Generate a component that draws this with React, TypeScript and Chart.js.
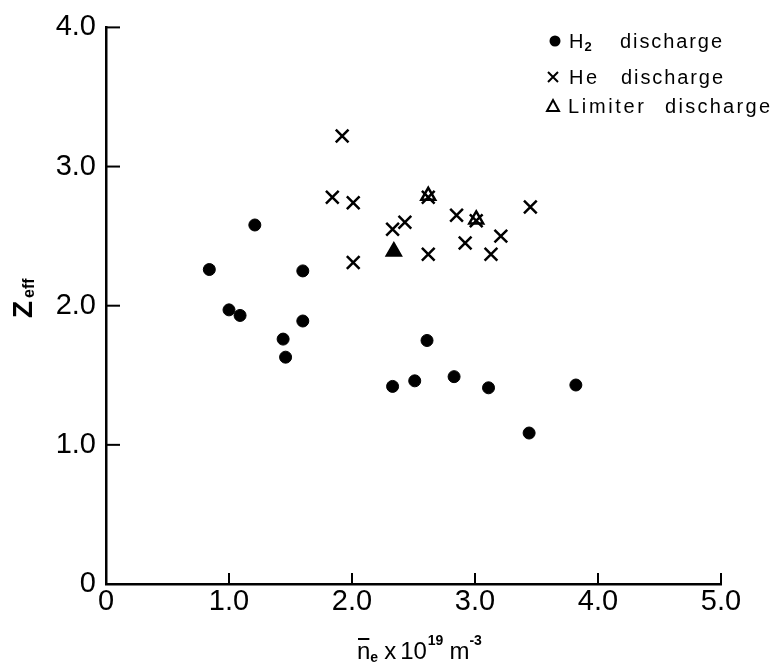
import React, { useEffect, useRef } from "react";
import { Chart, registerables } from "chart.js";

Chart.register(...registerables);

// ---- data ----
const h2X = [0.84, 1.0, 1.09, 1.21, 1.44, 1.46, 1.6, 1.6, 2.33, 2.51, 2.61, 2.83, 3.11, 3.44, 3.82];
const h2Y = [2.26, 1.97, 1.93, 2.58, 1.76, 1.63, 2.25, 1.89, 1.42, 1.46, 1.75, 1.49, 1.41, 1.085, 1.43];

const heX = [1.84, 1.92, 2.01, 2.01, 2.33, 2.43, 2.62, 2.62, 2.85, 2.92, 3.01, 3.13, 3.21, 3.45];
const heY = [2.78, 3.22, 2.74, 2.31, 2.55, 2.6, 2.37, 2.78, 2.65, 2.45, 2.61, 2.37, 2.5, 2.71];

const limX = [2.34, 2.62, 3.01];
const limY = [2.39, 2.79, 2.62];
const limFilled = [true, false, false];

const xTicks = [0, 1, 2, 3, 4, 5];
const yTicks = [0, 1, 2, 3, 4];
const xTickLabels = ["0", "1.0", "2.0", "3.0", "4.0", "5.0"];
const yTickLabels = ["0", "1.0", "2.0", "3.0", "4.0"];

const legendFirst = ["H", "He", "Limiter"];
const legendSecond = "discharge";

const FONT = "'Liberation Sans', Arial, sans-serif";

const toPts = (xs: number[], ys: number[]) => xs.map((x, i) => ({ x, y: ys[i] }));

// draw text stretched to a target width via letter spacing
function fitText(ctx: CanvasRenderingContext2D, s: string, x: number, y: number, target: number) {
  (ctx as any).letterSpacing = "0px";
  const w = ctx.measureText(s).width;
  const sp = Math.max(0, (target - w) / Math.max(1, s.length - 1));
  (ctx as any).letterSpacing = `${sp}px`;
  ctx.fillText(s, x, y);
  (ctx as any).letterSpacing = "0px";
}

const decorPlugin = {
  id: "decor",
  afterDraw(chart: any) {
    const ctx = chart.ctx as CanvasRenderingContext2D;
    const xs = chart.scales.x;
    const ys = chart.scales.y;
    const area = chart.chartArea;
    ctx.save();
    ctx.strokeStyle = "#000";
    ctx.fillStyle = "#000";
    ctx.lineWidth = 2;
    // inward ticks
    for (const v of xTicks) {
      const px = xs.getPixelForValue(v);
      ctx.beginPath();
      ctx.moveTo(px, area.bottom);
      ctx.lineTo(px, area.bottom - 11);
      ctx.stroke();
    }
    for (const v of yTicks) {
      const py = ys.getPixelForValue(v);
      ctx.beginPath();
      ctx.moveTo(area.left, py);
      ctx.lineTo(area.left + 14, py);
      ctx.stroke();
    }

    // y title: Z_eff (rotated)
    ctx.save();
    ctx.translate(32, 318);
    ctx.rotate(-Math.PI / 2);
    ctx.textBaseline = "alphabetic";
    ctx.textAlign = "left";
    ctx.font = `bold 28px ${FONT}`;
    ctx.fillText("Z", 0, 0);
    const zw = ctx.measureText("Z").width;
    ctx.font = `bold 16px ${FONT}`;
    ctx.fillText("eff", zw + 3, 2);
    ctx.restore();

    // x title: n̄e x 10^19 m^-3
    ctx.save();
    ctx.textBaseline = "alphabetic";
    ctx.textAlign = "left";
    let cx = 357;
    const base = 659;
    const big = `24px ${FONT}`;
    const small = `bold 14px ${FONT}`;
    ctx.font = big;
    ctx.fillText("n", cx, base);
    const nw = ctx.measureText("n").width;
    ctx.fillRect(cx + 1, base - 21, nw - 2, 2);
    cx += nw;
    ctx.font = small;
    ctx.fillText("e", cx, base + 3);
    cx += ctx.measureText("e").width + 6;
    ctx.font = big;
    ctx.fillText("x", cx, base);
    cx += ctx.measureText("x").width + 4;
    ctx.fillText("10", cx, base);
    cx += ctx.measureText("10").width + 1;
    ctx.font = small;
    ctx.fillText("19", cx, base - 14);
    cx += ctx.measureText("19").width + 6;
    ctx.font = big;
    ctx.fillText("m", cx, base);
    cx += ctx.measureText("m").width;
    ctx.font = small;
    ctx.fillText("-3", cx, base - 14);
    ctx.restore();

    // legend
    ctx.save();
    ctx.textBaseline = "alphabetic";
    ctx.textAlign = "left";
    const fnt = `20px ${FONT}`;
    ctx.font = fnt;
    const rows = [48, 84, 113];
    // dot
    ctx.beginPath();
    ctx.arc(555, rows[0] - 7, 5.5, 0, Math.PI * 2);
    ctx.fill();
    ctx.fillText(legendFirst[0], 569, rows[0]);
    const hx = 569 + ctx.measureText(legendFirst[0]).width + 1;
    ctx.font = `bold 13px ${FONT}`;
    ctx.fillText("2", hx, rows[0] + 3);
    ctx.font = fnt;
    fitText(ctx, legendSecond, 620, rows[0], 102);
    // cross
    ctx.lineWidth = 2;
    const cy = rows[1] - 7;
    ctx.beginPath();
    ctx.moveTo(548, cy - 5);
    ctx.lineTo(558, cy + 5);
    ctx.moveTo(558, cy - 5);
    ctx.lineTo(548, cy + 5);
    ctx.stroke();
    fitText(ctx, legendFirst[1], 569, rows[1], 28);
    fitText(ctx, legendSecond, 621, rows[1], 102);
    // triangle
    const ty = rows[2] - 7;
    ctx.beginPath();
    ctx.moveTo(553, ty - 6);
    ctx.lineTo(559, ty + 5);
    ctx.lineTo(547, ty + 5);
    ctx.closePath();
    ctx.stroke();
    fitText(ctx, legendFirst[2], 568, rows[2], 76);
    fitText(ctx, legendSecond, 665, rows[2], 105);
    ctx.restore();

    ctx.restore();
  },
};

export default function App() {
  const ref = useRef<HTMLCanvasElement | null>(null);
  useEffect(() => {
    if (!ref.current) return;
    const chart = new Chart(ref.current, {
      type: "scatter",
      data: {
        datasets: [
          {
            label: "H2 discharge",
            data: toPts(h2X, h2Y),
            pointStyle: "circle",
            pointRadius: 6,
            pointBackgroundColor: "#000",
            pointBorderColor: "#000",
            pointBorderWidth: 1,
          },
          {
            label: "Limiter discharge",
            data: toPts(limX, limY),
            pointStyle: "triangle",
            pointRadius: 8,
            pointBackgroundColor: limFilled.map((f) => (f ? "#000" : "rgba(255,255,255,0)")),
            pointBorderColor: "#000",
            pointBorderWidth: 2.5,
          },
          {
            label: "He discharge",
            data: toPts(heX, heY),
            pointStyle: "crossRot",
            pointRadius: 9,
            pointBorderColor: "#000",
            pointBorderWidth: 2.5,
          },
        ],
      },
      options: {
        responsive: false,
        animation: false,
        devicePixelRatio: 1,
        layout: { padding: { left: 0, right: 60, top: 21, bottom: 0 } },
        plugins: { legend: { display: false }, tooltip: { enabled: false } },
        scales: {
          x: {
            type: "linear",
            min: 0,
            max: 5,
            afterFit: (s: any) => {
              s.height = 86;
            },
            afterBuildTicks: (s: any) => {
              s.ticks = xTicks.map((v) => ({ value: v }));
            },
            grid: { display: false, drawTicks: false },
            border: { display: true, color: "#000", width: 2.5 },
            ticks: {
              padding: 1,
              color: "#000",
              font: { family: FONT, size: 29 },
              callback: (v: any) => xTickLabels[xTicks.indexOf(Number(v))] ?? "",
              maxRotation: 0,
              autoSkip: false,
            },
            title: { display: false },
          },
          y: {
            type: "linear",
            min: 0,
            max: 4,
            afterFit: (s: any) => {
              s.width = 106;
            },
            afterBuildTicks: (s: any) => {
              s.ticks = yTicks.map((v) => ({ value: v }));
            },
            grid: { display: false, drawTicks: false },
            border: { display: true, color: "#000", width: 2.5 },
            ticks: {
              padding: 10,
              color: "#000",
              font: { family: FONT, size: 29 },
              callback: (v: any) => yTickLabels[yTicks.indexOf(Number(v))] ?? "",
              autoSkip: false,
            },
            title: { display: false },
          },
        },
      },
      plugins: [decorPlugin],
    } as any);
    return () => chart.destroy();
  }, []);
  return (
    <div style={{ position: "fixed", left: 0, top: 0, width: 781, height: 670, background: "#fff" }}>
      <canvas ref={ref} width={781} height={670} style={{ display: "block" }} />
    </div>
  );
}
